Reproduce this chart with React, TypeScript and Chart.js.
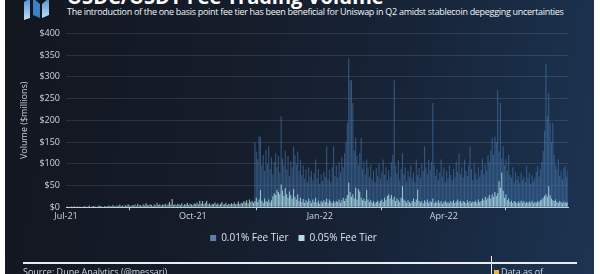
import React, { useEffect, useRef } from "react";
import { Chart, registerables } from "chart.js";

Chart.register(...registerables);

// ---------- DATA ----------
const startYear = 2021;
const startMonth = 6; // July (0-based)
const dayCount = 365;
const quarterTickMonths = [6, 9, 0, 3]; // Jul, Oct, Jan, Apr
const monthNames = ["Jan", "Feb", "Mar", "Apr", "May", "Jun", "Jul", "Aug", "Sep", "Oct", "Nov", "Dec"];
const yTickValues = [0, 50, 100, 150, 200, 250, 300, 350, 400];

const seriesNames = ["0.01% Fee Tier", "0.05% Fee Tier"];

// 0.01% fee tier starts trading mid-November 2021 (day index 137)
const tier001StartIndex = 137;
const tier001Values = [
  150, 128, 110, 163, 163, 96, 120, 84, 132, 100,
  140, 88, 115, 76, 104, 124, 92, 118, 80, 209,
  112, 96, 130, 86, 118, 72, 106, 92, 140, 120,
  98, 128, 84, 110, 74, 96, 66, 88, 58, 92,
  70, 84, 62, 78, 110, 66, 88, 54, 76, 60,
  82, 70, 140, 64, 86, 58, 92, 140, 72, 96,
  68, 104, 80, 116, 92, 124, 150, 194, 343, 292,
  292, 240, 130, 160, 118, 96, 124, 160, 88, 106,
  76, 110, 92, 70, 98, 64, 84, 58, 90, 72,
  100, 66, 82, 110, 74, 92, 62, 86, 70, 104,
  120, 292, 96, 78, 108, 64, 88, 124, 76, 92,
  60, 84, 70, 96, 66, 80, 58, 110, 74, 90,
  68, 100, 84, 140, 92, 76, 110, 86, 104, 240,
  96, 72, 88, 64, 80, 110, 70, 92, 58, 84,
  66, 96, 74, 62, 88, 70, 104, 82, 124, 76,
  92, 68, 110, 84, 72, 96, 140, 88, 62, 100,
  78, 64, 92, 70, 86, 112, 76, 98, 84, 120,
  104, 130, 160, 120, 163, 150, 270, 128, 240, 112,
  140, 96, 110, 84, 120, 74, 68, 92, 58, 80,
  64, 72, 56, 80, 62, 70, 58, 95, 66, 78,
  54, 74, 60, 68, 82, 95, 70, 88, 104, 130,
  176, 331, 210, 262, 194, 150, 194, 120, 96, 88,
  110, 72, 84, 64, 90, 95, 70, 86,
];

const tier005Values = [
  1, 2, 1, 1, 2, 1, 3, 1, 2, 1,
  2, 1, 1, 3, 2, 1, 2, 4, 1, 2,
  3, 2, 1, 2, 4, 3, 2, 1, 3, 2,
  2, 4, 3, 2, 5, 3, 2, 4, 3, 6,
  3, 4, 2, 5, 3, 7, 4, 3, 5, 4,
  6, 3, 8, 4, 5, 3, 6, 4, 9, 5,
  4, 7, 5, 3, 6, 4, 10, 5, 7, 4,
  6, 5, 8, 4, 7, 12, 6, 19, 5, 7,
  4, 8, 6, 5, 9, 4, 7, 6, 10, 5,
  8, 6, 5, 9, 7, 11, 6, 15, 8, 14,
  7, 10, 15, 6, 9, 5, 8, 7, 11, 6,
  9, 5, 8, 12, 6, 7, 10, 5, 8, 6,
  9, 7, 11, 6, 8, 13, 7, 10, 9, 14,
  11, 16, 9, 18, 12, 15, 10,
  14, 22, 12, 18, 39, 15, 10, 20, 14, 12,
  18, 11, 16, 25, 32, 28, 40, 35, 30, 52,
  38, 26, 44, 30, 22, 36, 28, 20, 42, 24,
  18, 30, 14, 22, 12, 19, 10, 16, 12, 20,
  14, 9, 18, 12, 22, 10, 15, 8, 14, 11,
  16, 12, 20, 10, 18, 13, 9, 15, 11, 14,
  12, 18, 10, 16, 22, 14, 20, 28, 57, 35,
  24, 30, 20, 45, 18, 42, 36, 22, 16, 20,
  14, 40, 18, 12, 16, 10, 14, 9, 12, 15,
  10, 14, 18, 12, 22, 16, 26, 30, 20, 28,
  18, 24, 14, 20, 16, 12, 22, 48, 18, 14,
  10, 16, 12, 9, 14, 20, 12, 18, 41, 15,
  11, 14, 9, 16, 12, 18, 10, 14, 12, 20,
  9, 13, 11, 16, 10, 14, 8, 12, 15, 10,
  12, 9, 14, 11, 16, 10, 13, 18, 12, 15,
  10, 14, 12, 9, 16, 11, 14, 10, 13, 12,
  15, 10, 18, 12, 14, 20, 16, 24, 18, 22,
  28, 20, 30, 24, 35, 26, 32, 60, 45, 80,
  38, 22, 30, 16, 20, 12, 15, 10, 14, 12,
  9, 13, 10, 15, 11, 14, 9, 12, 10, 13,
  11, 15, 9, 12, 10, 14, 12, 16, 18, 22,
  26, 30, 24, 48, 28, 20, 16, 14, 18, 12,
  10, 14, 12, 9, 13, 11, 10, 12,
];

// ---------- helpers ----------
type DayInfo = { month: number; day: number; year: number };
const days: DayInfo[] = Array.from({ length: dayCount }, (_, i) => {
  const d = new Date(startYear, startMonth, 1 + i);
  return { month: d.getMonth(), day: d.getDate(), year: d.getFullYear() };
});
const labels = days.map((d) => `${d.year}-${d.month + 1}-${d.day}`);

const tickLabelFor = (i: number): string | null => {
  const d = days[i];
  if (!d) return null;
  if (d.day === 1 && quarterTickMonths.includes(d.month)) {
    return `${monthNames[d.month]}-${String(d.year).slice(2)}`;
  }
  return null;
};

const FONT = "'Open Sans', 'Noto Sans', sans-serif";

function BarChart() {
  const ref = useRef<HTMLCanvasElement | null>(null);
  useEffect(() => {
    if (!ref.current) return;
    const tier001Data = labels.map((_, i) =>
      i >= tier001StartIndex ? tier001Values[i - tier001StartIndex] ?? null : null
    );
    const chart = new Chart(ref.current, {
      type: "bar",
      data: {
        labels,
        datasets: [
          {
            label: seriesNames[0],
            data: tier001Data,
            backgroundColor: "rgba(70,118,172,0.62)",
            borderWidth: 0,
            barPercentage: 0.8,
            categoryPercentage: 1,
            grouped: false,
            order: 1,
          },
          {
            label: seriesNames[1],
            data: tier005Values,
            backgroundColor: "rgba(166,217,226,0.85)",
            borderWidth: 0,
            barPercentage: 0.8,
            categoryPercentage: 1,
            grouped: false,
            order: 0,
          },
        ],
      },
      options: {
        animation: false,
        responsive: false,
        maintainAspectRatio: false,
        layout: { padding: { left: 14, right: 26, top: 9, bottom: 5 } },
        plugins: {
          tooltip: { enabled: false },
          legend: {
            display: true,
            position: "bottom",
            labels: {
              color: "#dde4ec",
              font: { family: FONT, size: 10 },
              boxWidth: 6,
              boxHeight: 6,
              padding: 10,
              sort: (a: any, b: any) => a.datasetIndex - b.datasetIndex,
              generateLabels: (c: any) =>
                c.data.datasets.map((ds: any, i: number) => ({
                  text: ds.label,
                  fillStyle: i === 0 ? "#5a7fb0" : "#b0dfe8",
                  strokeStyle: "transparent",
                  lineWidth: 0,
                  fontColor: "#dde4ec",
                  datasetIndex: i,
                  hidden: false,
                })),
            },
          },
        },
        scales: {
          x: {
            type: "category",
            offset: false,
            grid: {
              display: true,
              drawOnChartArea: false,
              drawTicks: true,
              tickLength: 3,
              color: "#c3ccd6",
            },
            border: { display: true, color: "#c3ccd6", width: 1 },
            ticks: {
              autoSkip: false,
              maxRotation: 0,
              minRotation: 0,
              padding: 1,
              color: "#cfd6df",
              font: { family: FONT, size: 9 },
              callback: (_v: any, i: number) => tickLabelFor(i),
            },
          },
          y: {
            min: 0,
            max: 400,
            afterBuildTicks: (scale: any) => {
              scale.ticks = yTickValues.map((v) => ({ value: v }));
            },
            afterFit: (scale: any) => {
              scale.width = 47;
            },
            grid: { color: "rgba(255,255,255,0.11)", drawTicks: false },
            border: { display: false },
            ticks: {
              padding: 6,
              color: "#cfd6df",
              font: { family: FONT, size: 9 },
              callback: (v: any) => `$${v}`,
            },
            title: {
              display: true,
              text: "Volume ($millions)",
              color: "#c8d0da",
              font: { family: FONT, size: 9 },
              padding: { top: 0, bottom: 0 },
            },
          },
        },
      },
    });
    return () => chart.destroy();
  }, []);
  return <canvas ref={ref} width={589} height={236} style={{ display: "block", width: 589, height: 236 }} />;
}

export default function App() {
  return (
    <div
      style={{
        position: "absolute",
        left: 0,
        top: 0,
        width: 600,
        height: 274,
        overflow: "hidden",
        background: "#ffffff",
        fontFamily: FONT,
      }}
    >
      <div
        style={{
          position: "absolute",
          left: 5,
          top: 0,
          width: 589,
          height: 274,
          background:
            "linear-gradient(100deg, #12161f 0%, #151c29 35%, #172438 65%, #1c3452 100%)",
          overflow: "hidden",
        }}
      >
        {/* logo */}
        <svg width="34" height="22" style={{ position: "absolute", left: 17, top: -2 }}>
          <defs>
            <linearGradient id="lg" x1="0" y1="0" x2="0" y2="1">
              <stop offset="0" stopColor="#4d8fd1" />
              <stop offset="1" stopColor="#bfe0f5" />
            </linearGradient>
          </defs>
          <polygon points="2,4 8,0 8,20 2,22" fill="url(#lg)" />
          <polygon points="11,0 18,6 18,20 11,17" fill="#3f7fc4" />
          <polygon points="20,6 27,0 27,17 20,20" fill="url(#lg)" />
        </svg>
        {/* cropped title */}
        <div
          style={{
            position: "absolute",
            left: 62,
            top: -13,
            fontSize: 20,
            lineHeight: "20px",
            fontWeight: 700,
            color: "#ffffff",
            whiteSpace: "nowrap",
          }}
        >
          USDC/USDT Fee Trading Volume
        </div>
        <div
          style={{
            position: "absolute",
            left: 62,
            top: 6,
            fontSize: 9,
            lineHeight: "12px",
            color: "#f2f5f8",
            whiteSpace: "nowrap",
            letterSpacing: -0.3,
          }}
        >
          The introduction of the one basis point fee tier has been beneficial for Uniswap in Q2 amidst stablecoin depegging uncertainties
        </div>
        <div style={{ position: "absolute", left: 0, top: 22 }}>
          <BarChart />
        </div>
        {/* footer */}
        <div style={{ position: "absolute", left: 18, top: 262, width: 554, height: 1.5, background: "#e8edf2" }} />
        <div style={{ position: "absolute", left: 486, top: 256, width: 1, height: 20, background: "#e8edf2" }} />
        <div
          style={{
            position: "absolute",
            left: 18,
            top: 266,
            fontSize: 9,
            lineHeight: "12px",
            color: "#cfd6df",
            whiteSpace: "nowrap",
          }}
        >
          Source: Dune Analytics (@messari)
        </div>
        <div
          style={{
            position: "absolute",
            left: 489,
            top: 266,
            fontSize: 9,
            lineHeight: "12px",
            color: "#cfd6df",
            whiteSpace: "nowrap",
          }}
        >
          <span style={{ display: "inline-block", width: 5, height: 5, background: "#e6b440", marginRight: 2 }} />
          Data as of
        </div>
      </div>
    </div>
  );
}
